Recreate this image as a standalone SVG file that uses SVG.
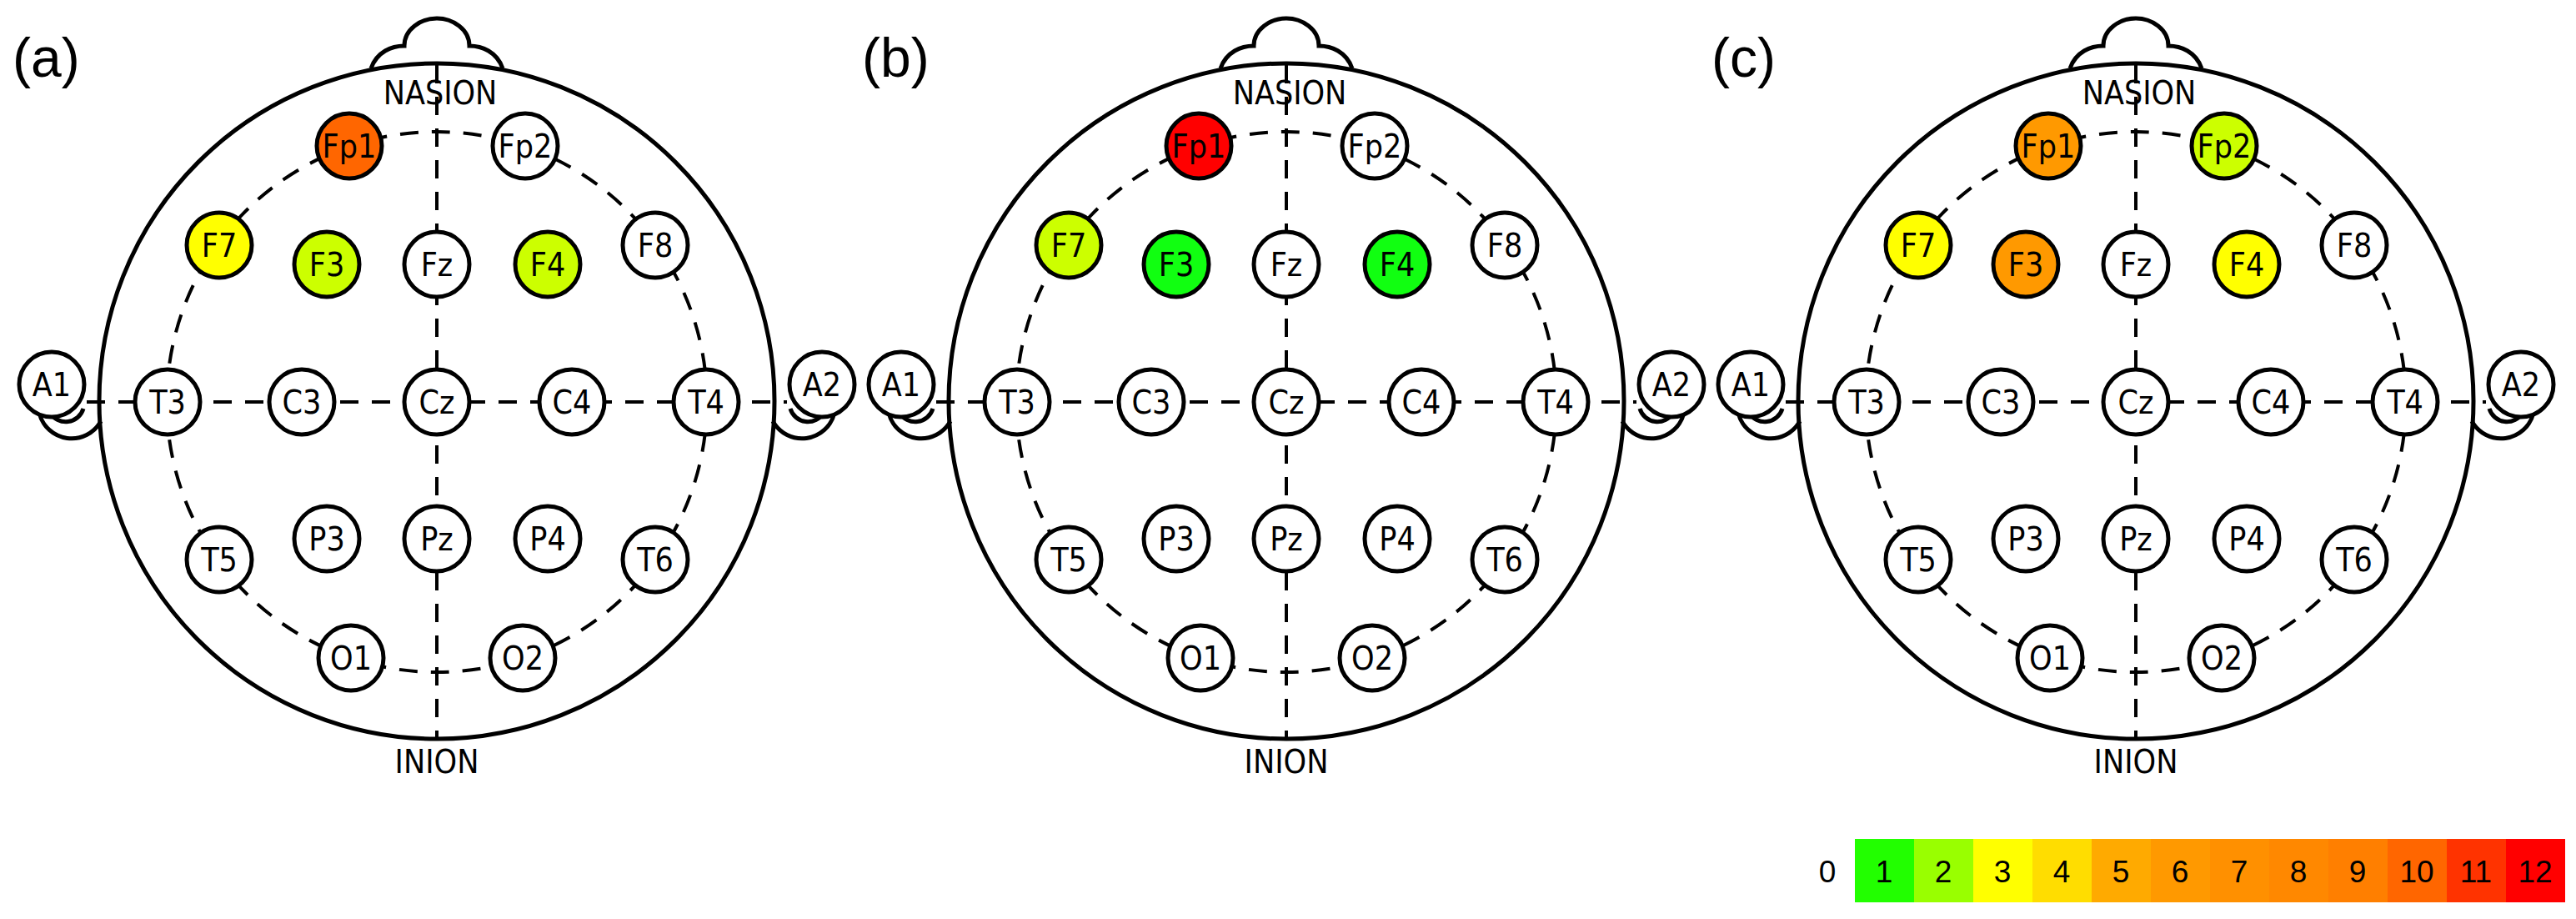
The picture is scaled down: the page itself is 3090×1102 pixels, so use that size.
<svg xmlns="http://www.w3.org/2000/svg" xmlns:xlink="http://www.w3.org/1999/xlink" width="3090" height="1102" viewBox="0 0 3090 1102">
<style>
.ln{fill:none;stroke:#000;stroke-width:5}
.ds{fill:none;stroke:#000;stroke-width:4;stroke-dasharray:22,16}
.nd{stroke:#000;stroke-width:5}
.t{font-family:"DejaVu Sans Condensed","DejaVu Sans",sans-serif;font-size:39px;text-anchor:middle;dominant-baseline:central}
.pl{font-family:"Liberation Sans",Arial,sans-serif;font-size:66px}
.lg{font-family:"Liberation Sans",Arial,sans-serif;font-size:37px;text-anchor:middle;dominant-baseline:central}
</style>
<defs>
<g id="head">
<path class="ln" d="M445,82 C452,62 470,55 485,55 C485,35 505,22 524,22 C543,22 563,35 563,55 C578,55 596,62 603,82"/>
<circle class="ln" cx="524" cy="481" r="405"/>
<path class="ln" d="M121,505 A40,40 0 0 1 47,495"/>
<path class="ln" d="M927,505 A40,40 0 0 0 1001,495"/>
<path class="ln" d="M100,490 A22,22 0 0 1 60,495"/>
<path class="ln" d="M948,490 A22,22 0 0 0 988,495"/>
<g id="conn">
<circle class="ds" cx="524" cy="482" r="324"/>
<line class="ds" x1="524" y1="78" x2="524" y2="885"/>
<line class="ds" x1="104" y1="482" x2="944" y2="482"/>
</g>
<text class="t" x="528" y="111">NASION</text>
<text class="t" x="524" y="913">INION</text>
</g>
</defs>

<g id="panel-a">
<text class="pl" x="15" y="92">(a)</text>
<use xlink:href="#head"/>
<g id="a-A1"><circle class="nd" fill="#fff" cx="62" cy="461" r="39"/><text class="t" x="62" y="461">A1</text></g>
<g id="a-A2"><circle class="nd" fill="#fff" cx="986" cy="461" r="39"/><text class="t" x="986" y="461">A2</text></g>
<g id="a-Fp1"><circle class="nd" fill="#ff6600" cx="419" cy="175" r="39"/><text class="t" x="419" y="175">Fp1</text></g>
<g id="a-Fp2"><circle class="nd" fill="#fff" cx="630" cy="175" r="39"/><text class="t" x="630" y="175">Fp2</text></g>
<g id="a-F7"><circle class="nd" fill="#ffff00" cx="263" cy="294" r="39"/><text class="t" x="263" y="294">F7</text></g>
<g id="a-F3"><circle class="nd" fill="#ccff00" cx="392" cy="317" r="39"/><text class="t" x="392" y="317">F3</text></g>
<g id="a-Fz"><circle class="nd" fill="#fff" cx="524" cy="317" r="39"/><text class="t" x="524" y="317">Fz</text></g>
<g id="a-F4"><circle class="nd" fill="#ccff00" cx="657" cy="317" r="39"/><text class="t" x="657" y="317">F4</text></g>
<g id="a-F8"><circle class="nd" fill="#fff" cx="786" cy="294" r="39"/><text class="t" x="786" y="294">F8</text></g>
<g id="a-T3"><circle class="nd" fill="#fff" cx="201" cy="482" r="39"/><text class="t" x="201" y="482">T3</text></g>
<g id="a-C3"><circle class="nd" fill="#fff" cx="362" cy="482" r="39"/><text class="t" x="362" y="482">C3</text></g>
<g id="a-Cz"><circle class="nd" fill="#fff" cx="524" cy="482" r="39"/><text class="t" x="524" y="482">Cz</text></g>
<g id="a-C4"><circle class="nd" fill="#fff" cx="686" cy="482" r="39"/><text class="t" x="686" y="482">C4</text></g>
<g id="a-T4"><circle class="nd" fill="#fff" cx="847" cy="482" r="39"/><text class="t" x="847" y="482">T4</text></g>
<g id="a-T5"><circle class="nd" fill="#fff" cx="263" cy="671" r="39"/><text class="t" x="263" y="671">T5</text></g>
<g id="a-P3"><circle class="nd" fill="#fff" cx="392" cy="646" r="39"/><text class="t" x="392" y="646">P3</text></g>
<g id="a-Pz"><circle class="nd" fill="#fff" cx="524" cy="646" r="39"/><text class="t" x="524" y="646">Pz</text></g>
<g id="a-P4"><circle class="nd" fill="#fff" cx="657" cy="646" r="39"/><text class="t" x="657" y="646">P4</text></g>
<g id="a-T6"><circle class="nd" fill="#fff" cx="786" cy="671" r="39"/><text class="t" x="786" y="671">T6</text></g>
<g id="a-O1"><circle class="nd" fill="#fff" cx="421" cy="789" r="39"/><text class="t" x="421" y="789">O1</text></g>
<g id="a-O2"><circle class="nd" fill="#fff" cx="627" cy="789" r="39"/><text class="t" x="627" y="789">O2</text></g>
</g>

<g id="panel-b" transform="translate(1019,0)">
<text class="pl" x="15" y="92">(b)</text>
<use xlink:href="#head"/>
<g id="b-A1"><circle class="nd" fill="#fff" cx="62" cy="461" r="39"/><text class="t" x="62" y="461">A1</text></g>
<g id="b-A2"><circle class="nd" fill="#fff" cx="986" cy="461" r="39"/><text class="t" x="986" y="461">A2</text></g>
<g id="b-Fp1"><circle class="nd" fill="#ff0000" cx="419" cy="175" r="39"/><text class="t" x="419" y="175">Fp1</text></g>
<g id="b-Fp2"><circle class="nd" fill="#fff" cx="630" cy="175" r="39"/><text class="t" x="630" y="175">Fp2</text></g>
<g id="b-F7"><circle class="nd" fill="#ccff00" cx="263" cy="294" r="39"/><text class="t" x="263" y="294">F7</text></g>
<g id="b-F3"><circle class="nd" fill="#11ff11" cx="392" cy="317" r="39"/><text class="t" x="392" y="317">F3</text></g>
<g id="b-Fz"><circle class="nd" fill="#fff" cx="524" cy="317" r="39"/><text class="t" x="524" y="317">Fz</text></g>
<g id="b-F4"><circle class="nd" fill="#11ff11" cx="657" cy="317" r="39"/><text class="t" x="657" y="317">F4</text></g>
<g id="b-F8"><circle class="nd" fill="#fff" cx="786" cy="294" r="39"/><text class="t" x="786" y="294">F8</text></g>
<g id="b-T3"><circle class="nd" fill="#fff" cx="201" cy="482" r="39"/><text class="t" x="201" y="482">T3</text></g>
<g id="b-C3"><circle class="nd" fill="#fff" cx="362" cy="482" r="39"/><text class="t" x="362" y="482">C3</text></g>
<g id="b-Cz"><circle class="nd" fill="#fff" cx="524" cy="482" r="39"/><text class="t" x="524" y="482">Cz</text></g>
<g id="b-C4"><circle class="nd" fill="#fff" cx="686" cy="482" r="39"/><text class="t" x="686" y="482">C4</text></g>
<g id="b-T4"><circle class="nd" fill="#fff" cx="847" cy="482" r="39"/><text class="t" x="847" y="482">T4</text></g>
<g id="b-T5"><circle class="nd" fill="#fff" cx="263" cy="671" r="39"/><text class="t" x="263" y="671">T5</text></g>
<g id="b-P3"><circle class="nd" fill="#fff" cx="392" cy="646" r="39"/><text class="t" x="392" y="646">P3</text></g>
<g id="b-Pz"><circle class="nd" fill="#fff" cx="524" cy="646" r="39"/><text class="t" x="524" y="646">Pz</text></g>
<g id="b-P4"><circle class="nd" fill="#fff" cx="657" cy="646" r="39"/><text class="t" x="657" y="646">P4</text></g>
<g id="b-T6"><circle class="nd" fill="#fff" cx="786" cy="671" r="39"/><text class="t" x="786" y="671">T6</text></g>
<g id="b-O1"><circle class="nd" fill="#fff" cx="421" cy="789" r="39"/><text class="t" x="421" y="789">O1</text></g>
<g id="b-O2"><circle class="nd" fill="#fff" cx="627" cy="789" r="39"/><text class="t" x="627" y="789">O2</text></g>
</g>

<g id="panel-c" transform="translate(2038,0)">
<text class="pl" x="15" y="92">(c)</text>
<use xlink:href="#head"/>
<g id="c-A1"><circle class="nd" fill="#fff" cx="62" cy="461" r="39"/><text class="t" x="62" y="461">A1</text></g>
<g id="c-A2"><circle class="nd" fill="#fff" cx="986" cy="461" r="39"/><text class="t" x="986" y="461">A2</text></g>
<g id="c-Fp1"><circle class="nd" fill="#ff9900" cx="419" cy="175" r="39"/><text class="t" x="419" y="175">Fp1</text></g>
<g id="c-Fp2"><circle class="nd" fill="#ccff00" cx="630" cy="175" r="39"/><text class="t" x="630" y="175">Fp2</text></g>
<g id="c-F7"><circle class="nd" fill="#ffff00" cx="263" cy="294" r="39"/><text class="t" x="263" y="294">F7</text></g>
<g id="c-F3"><circle class="nd" fill="#ff9900" cx="392" cy="317" r="39"/><text class="t" x="392" y="317">F3</text></g>
<g id="c-Fz"><circle class="nd" fill="#fff" cx="524" cy="317" r="39"/><text class="t" x="524" y="317">Fz</text></g>
<g id="c-F4"><circle class="nd" fill="#ffff00" cx="657" cy="317" r="39"/><text class="t" x="657" y="317">F4</text></g>
<g id="c-F8"><circle class="nd" fill="#fff" cx="786" cy="294" r="39"/><text class="t" x="786" y="294">F8</text></g>
<g id="c-T3"><circle class="nd" fill="#fff" cx="201" cy="482" r="39"/><text class="t" x="201" y="482">T3</text></g>
<g id="c-C3"><circle class="nd" fill="#fff" cx="362" cy="482" r="39"/><text class="t" x="362" y="482">C3</text></g>
<g id="c-Cz"><circle class="nd" fill="#fff" cx="524" cy="482" r="39"/><text class="t" x="524" y="482">Cz</text></g>
<g id="c-C4"><circle class="nd" fill="#fff" cx="686" cy="482" r="39"/><text class="t" x="686" y="482">C4</text></g>
<g id="c-T4"><circle class="nd" fill="#fff" cx="847" cy="482" r="39"/><text class="t" x="847" y="482">T4</text></g>
<g id="c-T5"><circle class="nd" fill="#fff" cx="263" cy="671" r="39"/><text class="t" x="263" y="671">T5</text></g>
<g id="c-P3"><circle class="nd" fill="#fff" cx="392" cy="646" r="39"/><text class="t" x="392" y="646">P3</text></g>
<g id="c-Pz"><circle class="nd" fill="#fff" cx="524" cy="646" r="39"/><text class="t" x="524" y="646">Pz</text></g>
<g id="c-P4"><circle class="nd" fill="#fff" cx="657" cy="646" r="39"/><text class="t" x="657" y="646">P4</text></g>
<g id="c-T6"><circle class="nd" fill="#fff" cx="786" cy="671" r="39"/><text class="t" x="786" y="671">T6</text></g>
<g id="c-O1"><circle class="nd" fill="#fff" cx="421" cy="789" r="39"/><text class="t" x="421" y="789">O1</text></g>
<g id="c-O2"><circle class="nd" fill="#fff" cx="627" cy="789" r="39"/><text class="t" x="627" y="789">O2</text></g>
</g>

<g id="legend">
<text class="lg" x="2192" y="1045">0</text>
<rect x="2225" y="1006" width="71" height="76" fill="#22ff00"/>
<rect x="2296" y="1006" width="71" height="76" fill="#99ff00"/>
<rect x="2367" y="1006" width="71" height="76" fill="#ffff00"/>
<rect x="2438" y="1006" width="71" height="76" fill="#ffdd00"/>
<rect x="2509" y="1006" width="71" height="76" fill="#ffaa00"/>
<rect x="2580" y="1006" width="71" height="76" fill="#ff9900"/>
<rect x="2651" y="1006" width="71" height="76" fill="#ff9000"/>
<rect x="2722" y="1006" width="71" height="76" fill="#ff8800"/>
<rect x="2793" y="1006" width="71" height="76" fill="#ff7f00"/>
<rect x="2864" y="1006" width="71" height="76" fill="#ff6600"/>
<rect x="2935" y="1006" width="71" height="76" fill="#ff3300"/>
<rect x="3006" y="1006" width="71" height="76" fill="#ff0000"/>
<text class="lg" x="2260" y="1045">1</text>
<text class="lg" x="2331" y="1045">2</text>
<text class="lg" x="2402" y="1045">3</text>
<text class="lg" x="2473" y="1045">4</text>
<text class="lg" x="2544" y="1045">5</text>
<text class="lg" x="2615" y="1045">6</text>
<text class="lg" x="2686" y="1045">7</text>
<text class="lg" x="2757" y="1045">8</text>
<text class="lg" x="2828" y="1045">9</text>
<text class="lg" x="2899" y="1045">10</text>
<text class="lg" x="2970" y="1045">11</text>
<text class="lg" x="3041" y="1045">12</text>
</g>
</svg>
